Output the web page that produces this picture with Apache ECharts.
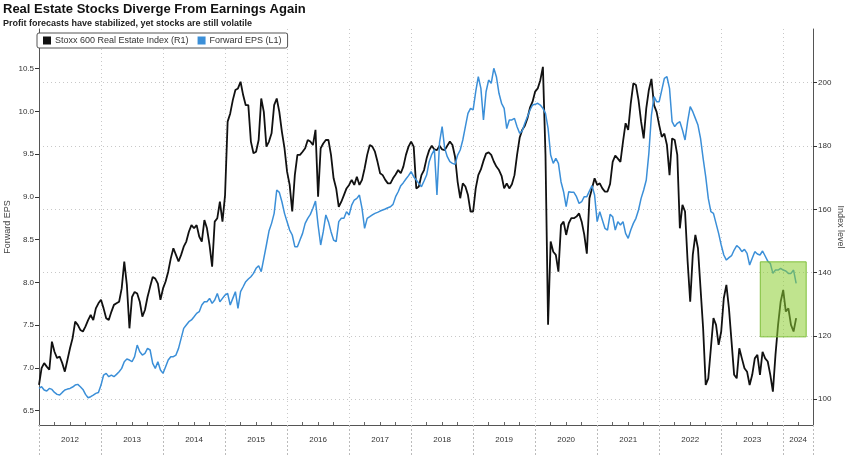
<!DOCTYPE html>
<html><head><meta charset="utf-8">
<script src="https://cdn.jsdelivr.net/npm/echarts@6/dist/echarts.min.js"></script>
<style>html,body{margin:0;padding:0;background:#fff}#c{width:848px;height:456px}</style>
</head><body><div id="c"></div><script>
const titleText = 'Real Estate Stocks Diverge From Earnings Again';
const subtitleText = 'Profit forecasts have stabilized, yet stocks are still volatile';
const seriesNames = ['Stoxx 600 Real Estate Index (R1)', 'Forward EPS (L1)'];
const leftAxisName = 'Forward EPS';
const rightAxisName = 'Index level';
const startYear = 2012;
const pointsPerYear = 24;
const yearLabels = ['2012','2013','2014','2015','2016','2017','2018','2019','2020','2021','2022','2023','2024'];
const yearLabelPos = [2012.5,2013.5,2014.5,2015.5,2016.5,2017.5,2018.5,2019.5,2020.5,2021.5,2022.5,2023.5,2024.24];
const epsTicks = [6.5,7,7.5,8,8.5,9,9.5,10,10.5];
const indexTicks = [100,120,140,160,180,200];

// Stoxx 600 Real Estate Index (right axis), half-monthly from Jan 2012
const indexLevel = [
 104.5,109.8,111.4,110.3,109.3,118.2,115,113,113.5,111.4,108.7,112.4,116.1,119.3,124.5,123.5,121.9,121.4,123,125,126.6,125,128.7,130.3,
 131.4,128.7,125.6,125,127.6,129.8,130.3,130.8,135,143.5,136.1,122.4,132.3,133.9,133.4,130.8,126.1,128.2,132.3,135.5,138.6,138.1,136.5,131.4,
 135,137.2,140.3,144.5,147.7,145.6,143.5,145.6,148.2,149.8,152.9,155,154,155,151.4,149.8,156.6,154,148.7,141.9,156.1,157.2,162.4,156.1,
 164.5,187.7,190.3,194.5,197.7,198.2,200.3,196.1,192.9,192.9,181.4,177.7,178.2,181.9,195,190.8,179.8,181.4,184,192.9,195,190.8,184.5,179.3,
 171.9,167.7,159.3,170.8,177.2,177.2,178.2,179.3,181.9,181.4,180.3,185.1,164,179.3,180.8,181.9,181.9,177.2,169.8,166.6,160.8,162.4,164.5,166.6,
 167.7,169.3,167.7,170.3,167.7,169.3,172.9,177.2,180.3,179.8,178.2,175,171.4,170.8,169.3,168.2,168.2,169.8,171,172.4,171.4,173.5,177.2,179.8,
 181.4,179.8,166.6,167.2,170.8,172.4,176.1,178.7,180.1,178.9,178.7,180.1,178.9,178.7,180.1,181.4,180.3,176.6,168.7,163.5,168.2,167.2,164.5,159.3,
 159.3,166.6,170.8,172.6,175.3,177.6,178,177.2,175.1,173.5,172.4,170.6,166.6,168.2,166.6,167.9,170.8,177.2,182.6,185.1,186.4,188.7,192.1,194,
 197.2,198.2,200.8,205,177.2,123.5,149.8,146.6,145.6,140.3,155,156.1,151.9,155.6,157.2,157.2,157.7,158.7,156.1,152,146,163.5,166.6,169.8,
 167.7,168.2,166.6,165.6,165.6,168,175,177,176,175,181.4,187.2,185.1,193.5,199.8,199.3,194.5,187.7,182.4,191.9,197.7,201.2,192.9,190.8,
 186.6,182.9,183.9,180.3,170.8,182.4,181.9,177.2,154,161.4,159.3,143.5,130.8,145.6,151.9,147.7,135,122.4,104.5,106.6,116.1,125.6,123.5,117.2,
 121.4,131.9,136.1,128.7,118.2,107.7,106.6,116.1,112.9,109.8,108.7,104.5,107.7,112.9,114,107.7,115,112.9,111.9,107.7,102.4,114,123.5,130.8,
 134.5,127.7,128.7,123.5,121.4,125.6
];

// Forward EPS (left axis), half-monthly from Jan 2012
const forwardEps = [
 6.761,6.781,6.742,6.730,6.761,6.749,6.714,6.691,6.683,6.714,6.742,6.753,6.761,6.777,6.800,6.808,6.781,6.749,6.691,6.652,6.664,6.683,6.703,6.714,
 6.800,6.917,6.937,6.898,6.917,6.898,6.925,6.956,6.995,7.073,7.104,7.093,7.073,7.132,7.268,7.190,7.151,7.171,7.229,7.210,7.054,6.995,7.073,6.976,
 6.937,7.015,7.093,7.132,7.132,7.151,7.229,7.346,7.463,7.502,7.541,7.561,7.599,7.638,7.658,7.736,7.775,7.775,7.814,7.755,7.794,7.872,7.775,7.814,
 7.853,7.872,7.736,7.814,7.892,7.697,7.892,7.950,8.009,8.040,8.067,8.106,8.165,8.196,8.126,8.282,8.438,8.601,8.691,8.808,9.081,9.054,8.944,8.808,
 8.711,8.613,8.555,8.418,8.418,8.496,8.574,8.691,8.750,8.796,8.867,8.952,8.672,8.438,8.594,8.789,8.711,8.594,8.496,8.477,8.711,8.750,8.750,8.828,
 8.789,8.905,8.964,8.983,9.022,8.867,8.633,8.750,8.769,8.789,8.808,8.820,8.835,8.847,8.859,8.874,8.886,8.913,9.003,9.061,9.132,9.167,9.210,9.249,
 9.296,9.237,9.198,9.159,9.120,9.186,9.256,9.412,9.498,9.553,9.022,9.638,9.822,9.568,9.471,9.412,9.393,9.381,9.490,9.549,9.666,9.822,9.978,10.036,
 10.017,10.231,10.406,10.270,9.90,10.23,10.367,10.328,10.504,10.406,10.212,10.095,10.036,9.80,9.90,9.90,9.919,9.822,9.744,9.771,9.861,9.939,10.017,10.075,
 10.083,10.095,10.075,10.036,9.978,9.802,9.490,9.393,9.451,9.393,9.178,9.061,8.886,9.061,9.054,9.054,9.003,8.925,8.944,9.003,9.003,9.069,9.132,9.022,
 8.711,8.828,8.730,8.633,8.613,8.796,8.769,8.613,8.711,8.672,8.711,8.574,8.516,8.613,8.691,8.750,8.847,8.983,9.081,9.198,9.510,9.958,10.173,10.114,
 10.114,10.250,10.387,10.406,10.270,9.880,9.822,9.861,9.880,9.783,9.666,9.880,10.056,9.997,9.919,9.841,9.685,9.451,9.237,8.983,8.828,8.808,8.691,8.574,
 8.438,8.321,8.262,8.290,8.313,8.379,8.430,8.406,8.360,8.387,8.340,8.204,8.282,8.360,8.332,8.321,8.368,8.309,8.250,8.223,8.106,8.145,8.145,8.165,
 8.145,8.134,8.106,8.106,8.145,7.989
];

// highlighted box (x in years, y on the right axis)
const highlight = { x0: 2023.63, x1: 2024.37, yTop: 143.4, yBottom: 119.7 };

const xMin = 2012, xMax = 2024.48;
const quarterTicks = [];
for (let y = 2012; y < 2025; y++) { [0.25, 0.5, 0.75].forEach(q => { if (y + q < xMax) quarterTicks.push(y + q); }); }

const toPairs = arr => arr.map((v, i) => [startYear + i / pointsPerYear, v]);

const FONT = 'Liberation Sans';
const chart = echarts.init(document.getElementById('c'), null, { renderer: 'canvas' });
chart.setOption({
  backgroundColor: '#fff',
  animation: false,
  textStyle: { fontFamily: FONT },
  title: {
    text: titleText, subtext: subtitleText, left: 1, top: 1, itemGap: 3, padding: [2, 2],
    textStyle: { fontFamily: FONT, fontSize: 13, fontWeight: 'bold', color: '#111' },
    subtextStyle: { fontFamily: FONT, fontSize: 9, fontWeight: 'bold', color: '#222' }
  },
  legend: {
    left: 37, top: 33, orient: 'horizontal',
    backgroundColor: '#fff', borderColor: '#555', borderWidth: 1, borderRadius: 2,
    padding: [3, 6], itemGap: 9, itemWidth: 8, itemHeight: 8, icon: 'rect',
    textStyle: { fontFamily: FONT, fontSize: 9, color: '#333', padding: [0, 0, 0, -1] },
    data: seriesNames
  },
  grid: { left: 39, right: 35, top: 29, bottom: 31, containLabel: false, outerBoundsMode: 'none' },
  xAxis: [{
    type: 'value', min: xMin, max: xMax, interval: 1,
    axisLine: { show: true, lineStyle: { color: '#555', width: 1 } },
    axisTick: { show: true, length: 31, lineStyle: { color: '#bbb', type: [2, 2] } },
    axisLabel: {
      customValues: yearLabelPos, fontSize: 8, color: '#333', margin: 11,
      formatter: v => { const i = yearLabelPos.findIndex(p => Math.abs(p - v) < 1e-6); return i >= 0 ? yearLabels[i] : ''; }
    },
    splitLine: { show: true, lineStyle: { color: '#c8c8c8', type: [1, 3], width: 1 } }
  }, {
    type: 'value', min: xMin, max: xMax, position: 'bottom',
    axisLine: { show: false },
    axisTick: { show: true, inside: true, length: 3, customValues: quarterTicks, lineStyle: { color: '#666' } },
    axisLabel: { show: false },
    splitLine: { show: false }
  }],
  yAxis: [{
    type: 'value', position: 'left', min: 6.333, max: 10.964,
    name: leftAxisName, nameLocation: 'middle', nameGap: 27, nameRotate: 90, nameMoveOverlap: false,
    nameTextStyle: { fontSize: 9, color: '#444', fontFamily: FONT },
    axisLine: { show: true, lineStyle: { color: '#555' } },
    axisTick: { show: true, length: 4, customValues: epsTicks, lineStyle: { color: '#333' } },
    axisLabel: { customValues: epsTicks, fontSize: 8, color: '#333', margin: 5, formatter: v => v.toFixed(1) },
    splitLine: { show: false }
  }, {
    type: 'value', position: 'right', min: 91.85, max: 216.97,
    name: rightAxisName, nameLocation: 'middle', nameGap: 23, nameRotate: -90, nameMoveOverlap: false,
    nameTextStyle: { fontSize: 9, color: '#444', fontFamily: FONT },
    axisLine: { show: true, lineStyle: { color: '#555' } },
    axisTick: { show: true, length: 4, customValues: indexTicks, lineStyle: { color: '#333' } },
    axisLabel: { customValues: indexTicks, fontSize: 8, color: '#333', margin: 5 },
    splitLine: { show: true, lineStyle: { color: '#c8c8c8', type: [1, 3], width: 1 } }
  }],
  series: [{
    name: seriesNames[0], type: 'line', xAxisIndex: 0, yAxisIndex: 1,
    data: toPairs(indexLevel), showSymbol: false, symbol: 'none',
    lineStyle: { color: '#111', width: 1.8 }, itemStyle: { color: '#111' }, z: 3
  }, {
    name: seriesNames[1], type: 'line', xAxisIndex: 0, yAxisIndex: 0,
    data: toPairs(forwardEps), showSymbol: false, symbol: 'none',
    lineStyle: { color: '#3b8fd8', width: 1.5 }, itemStyle: { color: '#3b8fd8' }, z: 4
  }, {
    name: 'highlight', type: 'line', xAxisIndex: 0, yAxisIndex: 1, data: [], z: 10,
    markArea: {
      silent: true, z: 10,
      itemStyle: { color: 'rgba(140,205,50,0.55)', borderColor: '#7fbf3a', borderWidth: 1 },
      data: [[{ xAxis: highlight.x0, yAxis: highlight.yTop }, { xAxis: highlight.x1, yAxis: highlight.yBottom }]]
    }
  }]
});
</script></body></html>
